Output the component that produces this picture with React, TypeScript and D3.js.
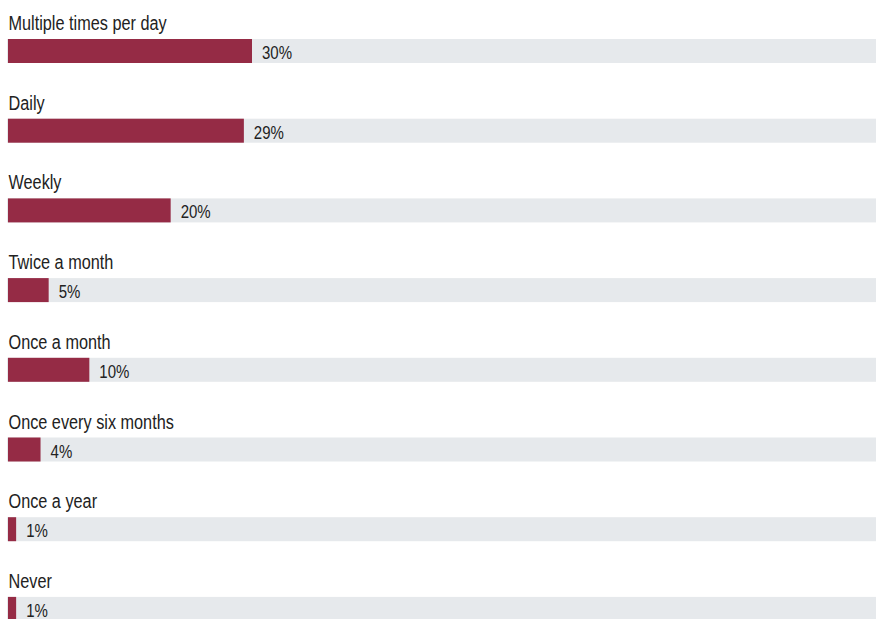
import React from "react";
import * as d3 from "d3";

const categories = [
  "Multiple times per day",
  "Daily",
  "Weekly",
  "Twice a month",
  "Once a month",
  "Once every six months",
  "Once a year",
  "Never",
];
const values = [30, 29, 20, 5, 10, 4, 1, 1];

const W = 876;
const H = 619;

export default function App() {
  const x = d3.scaleLinear().domain([0, 30]).range([8, 252]);
  const y = d3.scaleLinear().domain([0, 1]).range([39, 118.7]);
  const barH = 24;
  const font = "'Liberation Sans', Arial, sans-serif";
  return (
    <svg
      width={W}
      height={H}
      style={{ position: "absolute", left: 0, top: 0, display: "block" }}
    >
      <rect width={W} height={H} fill="#fff" />
      {categories.map((c, i) => {
        const top = y(i);
        return (
          <g key={c}>
            <text
              transform={`translate(8.5,${top - 9}) scale(0.775,1)`}
              fontFamily={font}
              fontSize={21}
              fill="#222"
            >
              {c}
            </text>
            <rect x={7} y={top} width={W - 7} height={barH} fill="#e6e9ec" />
            <rect x={x(0)} y={top} width={x(values[i]) - x(0)} height={barH} fill="#952b45" />
            <text
              transform={`translate(${x(values[i]) + 10},${top + 20}) scale(0.79,1)`}
              fontFamily={font}
              fontSize={19}
              fill="#222"
            >
              {values[i]}%
            </text>
          </g>
        );
      })}
    </svg>
  );
}
